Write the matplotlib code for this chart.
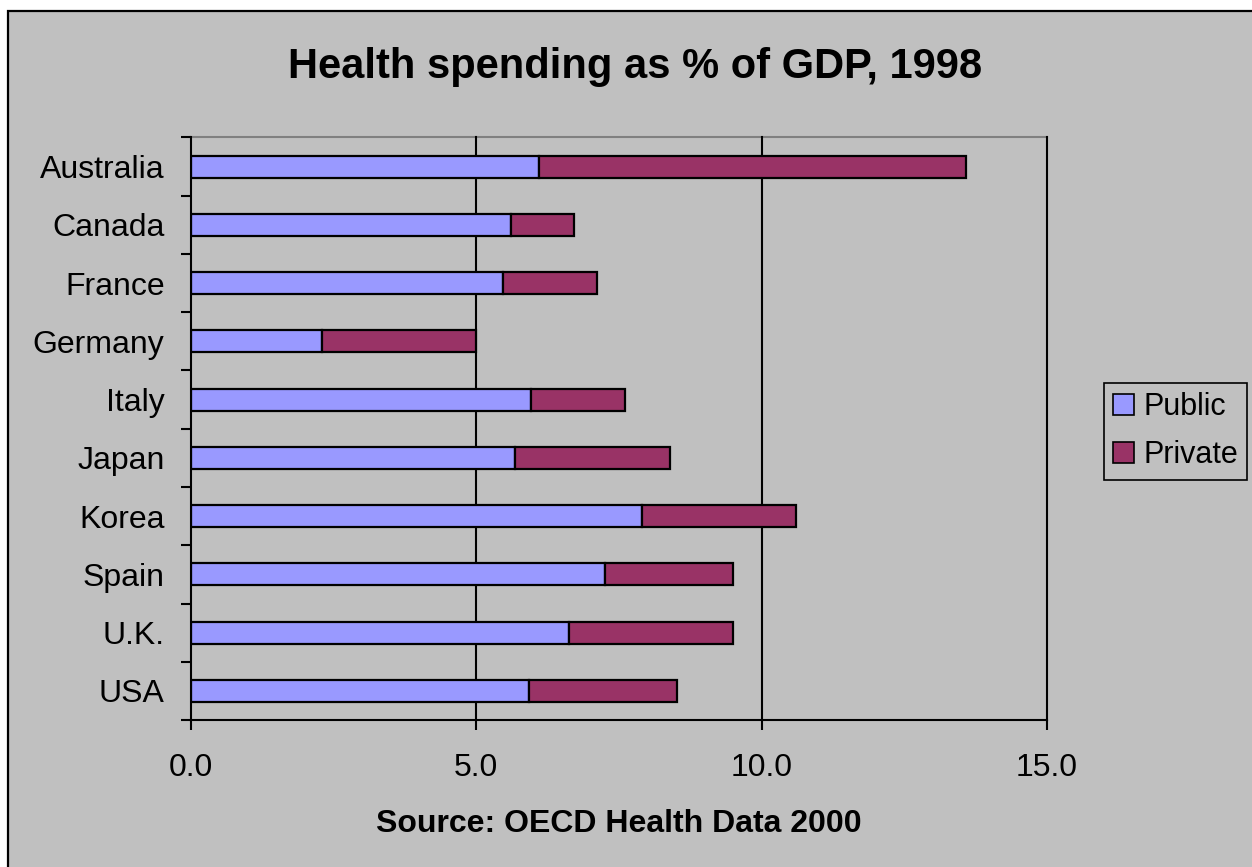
import matplotlib
matplotlib.use("Agg")
import matplotlib.pyplot as plt
from matplotlib.patches import Rectangle, Patch
from matplotlib.ticker import FixedLocator, NullFormatter
import numpy as np

countries = ["Australia", "Canada", "France", "Germany", "Italy",
             "Japan", "Korea", "Spain", "U.K.", "USA"]
public = [6.1, 5.6, 5.46, 2.3, 5.95, 5.67, 7.91, 7.25, 6.62, 5.92]
private = [7.48, 1.12, 1.65, 2.7, 1.65, 2.73, 2.7, 2.24, 2.87, 2.59]
xticks = [0.0, 5.0, 10.0, 15.0]

plt.rcParams['font.family'] = ['Liberation Sans', 'DejaVu Sans']

W, H = 1252, 867
fig = plt.figure(figsize=(W / 100, H / 100), dpi=100, facecolor="white")

# chart area background with black border
bg = Rectangle((8 / W, -0.01), 1.05, 1 - 11 / H + 0.01, transform=fig.transFigure,
               facecolor="#C0C0C0", edgecolor="black", linewidth=1.6, zorder=-10)
fig.patches.append(bg)

ax = fig.add_axes([191 / W, 1 - 720 / H, (1047 - 191) / W, (720 - 137.5) / H])
ax.set_zorder(5)
ax.set_facecolor("#C0C0C0")

y = np.arange(len(countries))
pub_c = "#9999FF"
priv_c = "#993366"
ax.barh(y, public, height=0.38, color=pub_c, edgecolor="black", linewidth=1.6, zorder=3)
ax.barh(y, private, left=public, height=0.38, color=priv_c, edgecolor="black",
        linewidth=1.6, zorder=3)

ax.set_xlim(0, 15)
ax.set_ylim(len(countries) - 0.5, -0.5)

ax.xaxis.set_major_locator(FixedLocator(xticks))
ax.set_xticklabels([f"{v:.1f}" for v in xticks])
ax.set_yticks(y)
ax.set_yticklabels(countries)
ax.yaxis.set_minor_locator(FixedLocator(np.arange(-0.5, len(countries), 1.0)))
ax.yaxis.set_minor_formatter(NullFormatter())

ax.tick_params(axis="y", which="major", length=0, pad=19, labelsize=23)
ax.tick_params(axis="y", which="minor", length=7.5, width=1.5, direction="out", color="black")
ax.tick_params(axis="x", which="major", length=7.5, width=1.5, direction="out",
               pad=16, labelsize=23)

for v in xticks[1:]:
    ax.axvline(v, color="black", linewidth=1.5, zorder=1, clip_on=False)

for s in ["left", "bottom"]:
    ax.spines[s].set_color("black")
    ax.spines[s].set_linewidth(1.5)
    ax.spines[s].set_zorder(4)
ax.spines["top"].set_color("#808080")
ax.spines["top"].set_linewidth(1.5)
ax.spines["top"].set_zorder(0.5)
ax.spines["right"].set_visible(False)

fig.text(635 / W, 1 - 78 / H, "Health spending as % of GDP, 1998", ha="center",
         va="baseline", fontsize=30, fontweight="bold")
fig.text(619 / W, 1 - 832 / H, "Source: OECD Health Data 2000", ha="center",
         va="baseline", fontsize=23, fontweight="bold")

handles = [Patch(facecolor=pub_c, edgecolor="black", linewidth=1.2, label="Public"),
           Patch(facecolor=priv_c, edgecolor="black", linewidth=1.2, label="Private")]
leg = fig.legend(handles=handles, loc="upper left",
                 bbox_to_anchor=(1104 / W, 1 - 383 / H), bbox_transform=fig.transFigure,
                 fontsize=22, frameon=True, fancybox=False, facecolor="#C0C0C0",
                 edgecolor="black", framealpha=1, handlelength=0.68, handleheight=0.68,
                 handletextpad=0.3, borderpad=0.3, labelspacing=0.6, borderaxespad=0)
leg.get_frame().set_linewidth(1.2)

fig.savefig("out.png", dpi=100, facecolor="white")
